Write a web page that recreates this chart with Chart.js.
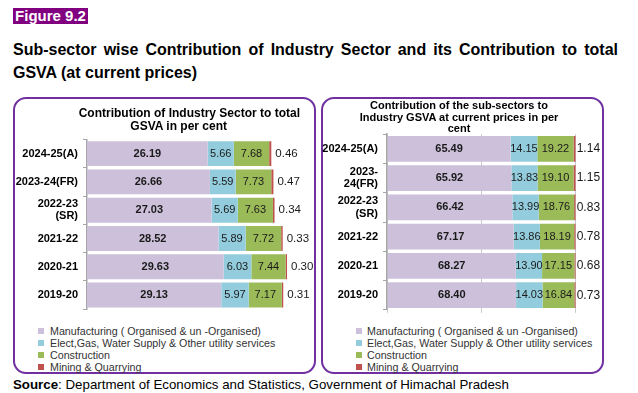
<!DOCTYPE html>
<html><head><meta charset="utf-8">
<script src="https://cdn.jsdelivr.net/npm/chart.js@4.4.1/dist/chart.umd.min.js"></script>
<style>
body{margin:0;width:638px;height:393px;background:#fff;font-family:"Liberation Sans",Arial,sans-serif;position:relative;overflow:hidden;color:#000}
.abs{position:absolute}
#fig{left:13px;top:8px;width:75px;height:16px;background:#800080;color:#fff;font-weight:bold;font-size:15px;line-height:16px;text-align:center}
#t1{left:13px;top:40px;width:605px;font-weight:bold;font-size:16px;line-height:20px;text-align:justify;text-align-last:justify;white-space:nowrap}
#t2{left:13px;top:63px;font-weight:bold;font-size:16px;line-height:20px;white-space:nowrap}
.panel{border:2px solid #7030A0;border-radius:13px;box-sizing:border-box}
#p1{left:13px;top:97px;width:303px;height:277px}
#p2{left:321px;top:97px;width:283px;height:277px}
.ct{font-weight:bold;text-align:center;white-space:nowrap}
#ct1{left:78.7px;width:200px;top:106.5px;font-size:12px;line-height:13px}
#ct2{left:359px;width:200px;top:99.9px;font-size:11px;line-height:11.65px}
.leg{font-size:10.7px;color:#333;line-height:12.33px}
.leg div{white-space:nowrap;height:12.33px}
.leg i{display:inline-block;width:6px;height:6px;margin-right:6px;vertical-align:1px}
#leg1{left:38px;top:324.5px}
#leg2{left:355.5px;top:324.5px}
#leg2 i{margin-right:5.5px}
#src{left:13px;top:376.5px;font-size:13.3px;line-height:15px;white-space:nowrap}
#c1{left:13px;top:99px}
#c2{left:321px;top:98px}
</style></head>
<body>
<div id="fig" class="abs">Figure 9.2</div>
<div id="t1" class="abs">Sub-sector wise Contribution of Industry Sector and its Contribution to total</div>
<div id="t2" class="abs">GSVA (at current prices)</div>
<div id="p1" class="abs panel"></div>
<div id="p2" class="abs panel"></div>
<canvas id="c1" class="abs" width="302" height="221"></canvas>
<canvas id="c2" class="abs" width="282" height="223"></canvas>
<div id="ct1" class="abs ct"></div>
<div id="ct2" class="abs ct"></div>
<div id="leg1" class="abs leg"></div>
<div id="leg2" class="abs leg"></div>
<div id="src" class="abs"><b>Source</b>: Department of Economics and Statistics, Government of Himachal Pradesh</div>
<script>
// ---- data ----
const seriesNames = ['Manufacturing ( Organised & un -Organised)', 'Elect,Gas, Water Supply & Other utility services', 'Construction', 'Mining & Quarrying'];
const seriesColors = ['#CCC0DA', '#93CDDD', '#9BBB59', '#C0504D'];

const leftTitle = ['Contribution of Industry Sector to total', 'GSVA in per cent'];
const leftCategories = [['2024-25(A)'], ['2023-24(FR)'], ['2022-23', '(SR)'], ['2021-22'], ['2020-21'], ['2019-20']];
const leftManufacturing = [26.19, 26.66, 27.03, 28.52, 29.63, 29.13];
const leftElect = [5.66, 5.59, 5.69, 5.89, 6.03, 5.97];
const leftConstruction = [7.68, 7.73, 7.63, 7.72, 7.44, 7.17];
const leftMining = [0.46, 0.47, 0.34, 0.33, 0.30, 0.31];

const rightTitle = ['Contribution of the sub-sectors to', 'Industry GSVA at current prices in per', 'cent'];
const rightCategories = [['2024-25(A)'], ['2023-', '24(FR)'], ['2022-23', '(SR)'], ['2021-22'], ['2020-21'], ['2019-20']];
const rightManufacturing = [65.49, 65.92, 66.42, 67.17, 68.27, 68.40];
const rightElect = [14.15, 13.83, 13.99, 13.86, 13.90, 14.03];
const rightConstruction = [19.22, 19.10, 18.76, 18.19, 17.15, 16.84];
const rightMining = [1.14, 1.15, 0.83, 0.78, 0.68, 0.73];

const FAM = '"Liberation Sans", Arial, sans-serif';
Chart.defaults.font.family = FAM;

function setTitle(id, lines) {
  const el = document.getElementById(id);
  lines.forEach((l, i) => {
    if (i) el.appendChild(document.createElement('br'));
    el.appendChild(document.createTextNode(l));
  });
}
setTitle('ct1', leftTitle);
setTitle('ct2', rightTitle);

const valueLabels = {
  id: 'valueLabels',
  afterDatasetsDraw(chart, args, opts) {
    const ctx = chart.ctx;
    chart.data.datasets.forEach((ds, i) => {
      const meta = chart.getDatasetMeta(i);
      meta.data.forEach((bar, j) => {
        const txt = Number(ds.data[j]).toFixed(2);
        ctx.save();
        ctx.fillStyle = '#1a1a1a';
        ctx.textBaseline = 'middle';
        if (i === 0) {
          ctx.font = 'bold 11px ' + FAM;
          ctx.textAlign = 'center';
          ctx.fillText(txt, (bar.x + bar.base) / 2, bar.y);
        } else if (i === 3) {
          ctx.font = opts.outsideSize + 'px ' + FAM;
          ctx.textAlign = 'left';
          ctx.fillText(txt, bar.x + opts.outsideOffset, bar.y);
        } else {
          ctx.font = opts.innerSize + 'px ' + FAM;
          ctx.textAlign = 'center';
          ctx.fillText(txt, (bar.x + bar.base) / 2, bar.y);
        }
        ctx.restore();
      });
    });
  }
};

function makeDatasets(arrs) {
  return arrs.map((d, i) => ({
    label: seriesNames[i], data: d, backgroundColor: seriesColors[i],
    borderWidth: 0, barPercentage: 0.88, categoryPercentage: 1
  }));
}

new Chart(document.getElementById('c1'), {
  type: 'bar',
  data: { labels: leftCategories, datasets: makeDatasets([leftManufacturing, leftElect, leftConstruction, leftMining]) },
  plugins: [valueLabels],
  options: {
    indexAxis: 'y', responsive: false, animation: false,
    layout: { padding: { left: 0, right: 20.6, top: 40.5, bottom: 3.6 } },
    plugins: {
      legend: { display: false }, tooltip: { enabled: false }, title: { display: false },
      valueLabels: { outsideOffset: 4, outsideSize: 11.5, innerSize: 11 }
    },
    scales: {
      x: { stacked: true, min: 0, max: 45, display: false },
      y: {
        stacked: true,
        grid: { display: true, drawOnChartArea: false, drawTicks: true, tickLength: 4, color: '#A6A6A6', offset: true },
        border: { display: true, color: '#A6A6A6', width: 1.5 },
        ticks: { color: '#000', font: { size: 11, weight: 'bold', lineHeight: 1.06 }, padding: 5, autoSkip: false },
        afterFit(s) { s.width = 74; }
      }
    }
  }
});

new Chart(document.getElementById('c2'), {
  type: 'bar',
  data: { labels: rightCategories, datasets: makeDatasets([rightManufacturing, rightElect, rightConstruction, rightMining]) },
  plugins: [valueLabels],
  options: {
    indexAxis: 'y', responsive: false, animation: false,
    layout: { padding: { left: 0, right: 27.3, top: 36.2, bottom: 0.5 } },
    plugins: {
      legend: { display: false }, tooltip: { enabled: false }, title: { display: false },
      valueLabels: { outsideOffset: 1, outsideSize: 12, innerSize: 11 }
    },
    scales: {
      x: {
        stacked: true, min: 0, max: 100,
        ticks: { display: false, stepSize: 50 },
        grid: { display: true, color: '#C8C8C8', drawTicks: true, tickLength: 3 },
        border: { display: false }
      },
      y: {
        stacked: true,
        grid: { display: true, drawOnChartArea: false, drawTicks: true, tickLength: 4, color: '#A6A6A6', offset: true },
        border: { display: true, color: '#A6A6A6', width: 1.5 },
        ticks: { color: '#000', font: { size: 11, weight: 'bold', lineHeight: 1.12 }, padding: 5, autoSkip: false },
        afterFit(s) { s.width = 66; }
      }
    }
  }
});

function buildLegend(id) {
  const el = document.getElementById(id);
  seriesNames.forEach((n, i) => {
    const row = document.createElement('div');
    const box = document.createElement('i');
    box.style.background = seriesColors[i];
    row.appendChild(box);
    row.appendChild(document.createTextNode(n));
    el.appendChild(row);
  });
}
buildLegend('leg1');
buildLegend('leg2');
</script>
</body></html>
